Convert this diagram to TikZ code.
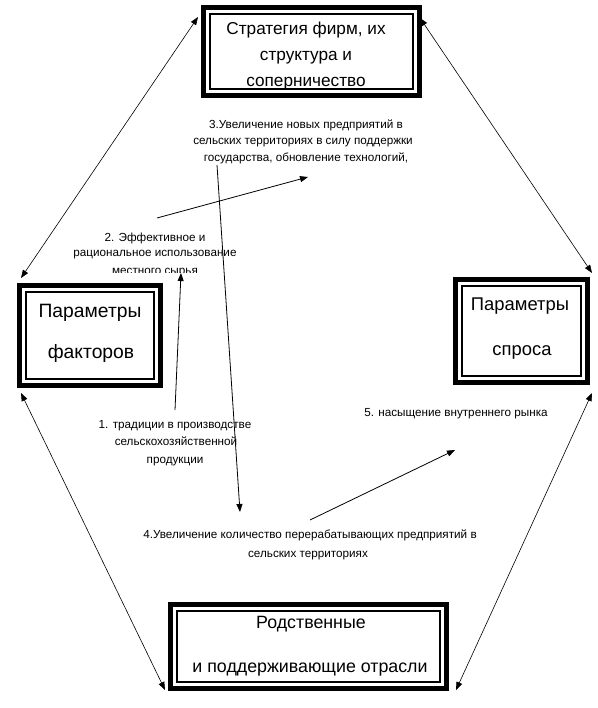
\documentclass[tikz,border=0pt]{standalone}
\usepackage{fontspec}
\setmainfont{Liberation Sans}
\usetikzlibrary{arrows.meta}
\begin{document}
\begin{tikzpicture}[x=1pt,y=-1pt,
  box/.style={draw, line width=1.5pt, outer sep=0pt, inner sep=0pt},
  frame/.style={line width=5pt},
  big/.style={font=\fontsize{17.2}{20}\selectfont, anchor=base, inner sep=0pt},
  bigb/.style={font=\fontsize{17.8}{20}\selectfont, anchor=base, inner sep=0pt},
  huge/.style={font=\fontsize{19.3}{22}\selectfont, anchor=base, inner sep=0pt},
  huger/.style={font=\fontsize{18.4}{22}\selectfont, anchor=base, inner sep=0pt},
  small/.style={font=\fontsize{11.7}{13}\selectfont, anchor=base, inner sep=0pt},
  link/.style={line width=0.8pt, -{Triangle[length=8pt,width=6pt]}},
  dlink/.style={line width=0.6pt, {Triangle[length=8pt,width=6pt]}-{Triangle[length=8pt,width=6pt]}}]
\useasboundingbox (0,0) rectangle (597,708);
% boxes
\node[box, minimum width=203pt, minimum height=75pt] (strat) at (311.5,51.5) {};
\node[box, minimum width=128pt, minimum height=87pt] (fact) at (90,335.5) {};
\node[box, minimum width=119pt, minimum height=90pt] (spros) at (521.5,331) {};
\node[box, minimum width=263pt, minimum height=71pt] (rod) at (308.5,646.5) {};
\foreach \n in {strat,fact,spros,rod}
  \draw[frame] ([shift={(-6.5pt,6.5pt)}]\n.north west) rectangle ([shift={(6.5pt,-6.5pt)}]\n.south east);
% box texts
\node[big] (s1) at (306,35) {Стратегия фирм, их};
\node[big] (s2) at (306,61) {структура и};
\node[big] (s3) at (306,87) {соперничество};
\node[huge] (f1) at (90,317) {Параметры};
\node[huge] (f2) at (91,358) {факторов};
\node[huger] (p1) at (520,310) {Параметры};
\node[huger] (p2) at (522,355) {спроса};
\node[bigb] (r1) at (311,628) {Родственные};
\node[bigb] (r2) at (310,672) {и поддерживающие отрасли};
% small texts
\node[small] (a31) at (306,129) {3.Увеличение новых предприятий в};
\node[small] (a32) at (303,145) {сельских территориях в силу поддержки};
\node[small] (a33) at (306,162) {государства, обновление технологий,};
\node[small] (a21) at (155,241) {2. Эффективное и};
\node[small] (a22) at (155,257) {рациональное использование};
\begin{scope}
\clip (0,0) rectangle (597,272);
\node[small] (a23) at (155,274) {местного сырья};
\end{scope}
\node[small] (a11) at (175,428) {1. традиции в производстве};
\node[small] (a12) at (176,445) {сельскохозяйственной};
\node[small] (a13) at (175,463) {продукции};
\node[small] (a51) at (456,416) {5. насыщение внутреннего рынка};
\node[small] (a41) at (310,538) {4.Увеличение количество перерабатывающих предприятий в};
\node[small] (a42) at (308,557) {сельских территориях};
% inner connectors
\coordinate (c2) at (157,218);
\coordinate (c3) at (308,177);
\coordinate (c1) at (175,410);
\coordinate (c1e) at (181,273);
\coordinate (c3s) at (217,165);
\coordinate (c4) at (240,512);
\coordinate (c4s) at (310,520);
\coordinate (c5) at (455,450);
\draw[link] (c2) -- (c3);
\draw[link] (c1) -- (c1e);
\draw[link] (c3s) -- (c4);
\draw[link] (c4s) -- (c5);
% outer connectors
\draw[dlink] ([shift={(-12pt,-3pt)}]strat.north west) -- ([shift={(-5pt,14pt)}]fact.north west);
\draw[dlink] ([shift={(7pt,-4pt)}]strat.north east) -- ([shift={(11pt,13pt)}]spros.north east);
\draw[dlink] ([shift={(-5pt,-14pt)}]fact.south west) -- ([shift={(-12pt,-8pt)}]rod.south west);
\draw[dlink] ([shift={(11pt,-17pt)}]spros.south east) -- ([shift={(16pt,-8pt)}]rod.south east);
\end{tikzpicture}
\end{document}
